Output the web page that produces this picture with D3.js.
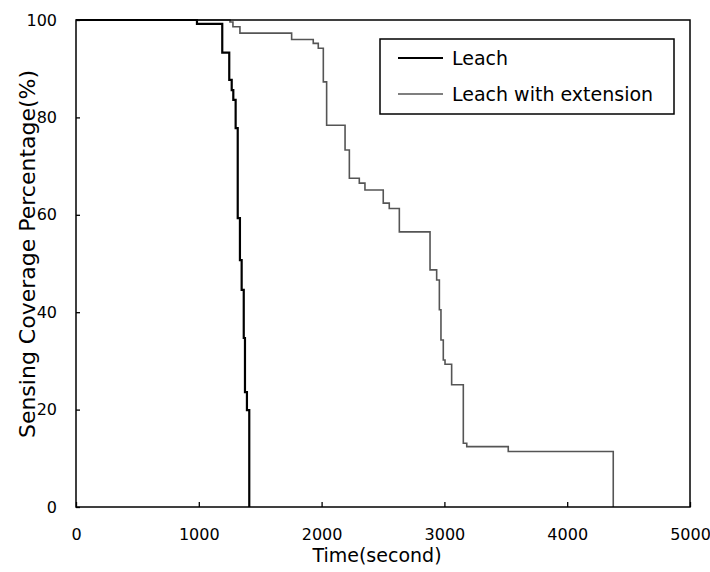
<!DOCTYPE html>
<html>
<head>
    <script src="https://d3js.org/d3.v7.min.js"></script>
    <style>
        body { margin: 0; background: #fff; }
        text { font-family: "DejaVu Sans", sans-serif; fill: #000; }
    </style>
</head>
<body>
    <svg id="chart" width="710" height="572"></svg>

    <script>
        // step data: [time (s), coverage (%)]
        var leachTime = [0, 985, 1191, 1248, 1268, 1281, 1300, 1317, 1335, 1349, 1366, 1376, 1392, 1411];
        var leachCover = [100, 99.2, 93.3, 87.7, 85.6, 83.6, 77.8, 59.3, 50.7, 44.6, 34.7, 23.6, 19.9, 0];

        var extTime = [0, 1254, 1278, 1335, 1756, 1932, 1973, 2014, 2041, 2191, 2226, 2307, 2353, 2502, 2551, 2633, 2883, 2937, 2959, 2972, 2991, 3005, 3059, 3154, 3182, 3520, 4375];
        var extCover = [100, 99.6, 98.6, 97.3, 96.0, 95.2, 94.2, 87.3, 78.4, 73.3, 67.5, 66.5, 65.1, 62.4, 61.3, 56.5, 48.7, 46.6, 40.5, 34.3, 30.2, 29.3, 25.1, 13.1, 12.4, 11.4, 0];

        var xTicks = [0, 1000, 2000, 3000, 4000, 5000];
        var yTicks = [0, 20, 40, 60, 80, 100];
        var seriesNames = ["Leach", "Leach with extension"];

        var leach = leachTime.map((t, i) => ({ t: t, v: leachCover[i] }));
        var ext = extTime.map((t, i) => ({ t: t, v: extCover[i] }));

        var margin = { left: 76, top: 20, right: 20, bottom: 65 };
        var w = 710 - margin.left - margin.right;
        var h = 572 - margin.top - margin.bottom;

        var x = d3.scaleLinear().domain([0, 5000]).range([0, w]);
        var y = d3.scaleLinear().domain([0, 100]).range([h, 0]);

        var svg = d3.select("#chart");
        var g = svg.append("g").attr("transform", `translate(${margin.left},${margin.top})`);

        // axes, ticks pointing inward
        var xAxis = g.append("g").attr("transform", `translate(0,${h})`)
            .call(d3.axisBottom(x).tickValues(xTicks).tickFormat(d3.format("d")).tickSize(-5).tickSizeOuter(0).tickPadding(22));
        var yAxis = g.append("g")
            .call(d3.axisLeft(y).tickValues(yTicks).tickFormat(d3.format("d")).tickSize(-4).tickSizeOuter(0).tickPadding(19));
        [xAxis, yAxis].forEach(a => {
            a.select(".domain").remove();
            a.selectAll("line").attr("stroke", "#000").attr("stroke-width", 1.3);
            a.selectAll("text").style("font-family", "DejaVu Sans").style("font-size", "16px").attr("fill", "#000");
        });

        var line = d3.line().x(d => x(d.t)).y(d => y(d.v)).curve(d3.curveStepAfter);

        g.append("path").datum(ext).attr("d", line)
            .attr("fill", "none").attr("stroke", "#555").attr("stroke-width", 1.6);
        g.append("path").datum(leach).attr("d", line)
            .attr("fill", "none").attr("stroke", "#000").attr("stroke-width", 2.2);

        // frame
        g.append("rect").attr("width", w).attr("height", h)
            .attr("fill", "none").attr("stroke", "#000").attr("stroke-width", 1.5);

        // axis titles
        svg.append("text").attr("x", margin.left + x(2500) - 6).attr("y", 562)
            .attr("text-anchor", "middle").style("font-size", "19px").text("Time(second)");
        svg.append("text").attr("transform", "translate(27,254)rotate(-90)")
            .attr("text-anchor", "middle").attr("dy", "0.35em").style("font-size", "22px")
            .text("Sensing Coverage Percentage(%)");

        // legend
        var lg = svg.append("g").attr("transform", "translate(380,39)");
        lg.append("rect").attr("width", 294).attr("height", 75)
            .attr("fill", "#fff").attr("stroke", "#000").attr("stroke-width", 1.5);
        var items = lg.selectAll(".item").data(seriesNames).enter().append("g")
            .attr("class", "item").attr("transform", (d, i) => `translate(0,${19 + 36 * i})`);
        items.append("line").attr("x1", 18).attr("x2", 63)
            .attr("stroke", (d, i) => i ? "#555" : "#000")
            .attr("stroke-width", (d, i) => i ? 1.6 : 2);
        items.append("text").attr("x", 72).attr("dy", "0.35em")
            .style("font-size", "19px").text(d => d);
    </script>
</body>
</html>
